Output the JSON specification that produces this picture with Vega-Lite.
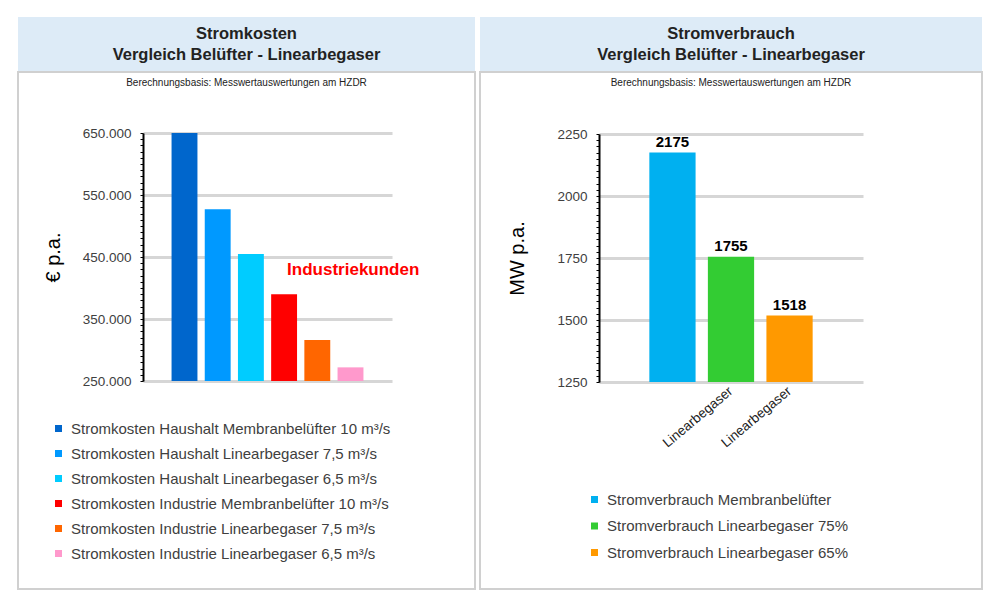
{
  "$schema": "https://vega.github.io/schema/vega-lite/v6.json",
  "padding": {"left": 17, "top": 17, "right": 0, "bottom": 0},
  "background": "white",
  "config": {"font": "Liberation Sans"},
  "spacing": 3,
  "resolve": {"scale": {"x": "independent", "y": "independent", "color": "independent"}},
  "hconcat": [
    {
      "spacing": 0,
      "resolve": {"scale": {"x": "independent", "y": "independent", "color": "independent"}},
      "vconcat": [
        {
          "width": 457,
          "height": 54,
          "view": {"fill": "#DDEBF7", "stroke": null},
          "data": {"values": [{"titel": "Stromkosten\nVergleich Belüfter - Linearbegaser"}]},
          "mark": {"type": "text", "lineBreak": "\n", "fontSize": 16.5, "fontWeight": "bold", "lineHeight": 21, "color": "#222222", "align": "center", "baseline": "middle", "dy": -10.5},
          "encoding": {
            "x": {"datum": 0.5, "type": "quantitative", "scale": {"domain": [0, 1]}, "axis": null},
            "y": {"datum": 0.5, "type": "quantitative", "scale": {"domain": [0, 1]}, "axis": null},
            "text": {"field": "titel"}
          }
        },
        {
          "width": 457,
          "height": 517,
          "view": {"fill": "white", "stroke": "#D0D0D0", "strokeWidth": 2},
          "title": {"text": "Berechnungsbasis: Messwertauswertungen am HZDR", "fontSize": 10, "fontWeight": "normal", "color": "#222222", "anchor": "middle", "frame": "group", "orient": "top", "offset": -16},
          "layer": [
            {
              "data": {"values": [
                {"serie": "Stromkosten Haushalt Membranbelüfter 10 m³/s", "kosten": 650000},
                {"serie": "Stromkosten Haushalt Linearbegaser 7,5 m³/s", "kosten": 527000},
                {"serie": "Stromkosten Haushalt Linearbegaser 6,5 m³/s", "kosten": 455000},
                {"serie": "Stromkosten Industrie Membranbelüfter 10 m³/s", "kosten": 390000},
                {"serie": "Stromkosten Industrie Linearbegaser 7,5 m³/s", "kosten": 316000},
                {"serie": "Stromkosten Industrie Linearbegaser 6,5 m³/s", "kosten": 272000}
              ]},
              "mark": {"type": "bar", "clip": false},
              "encoding": {
                "x": {"field": "serie", "type": "nominal", "sort": null, "scale": {"range": [125, 374], "paddingInner": 0.22, "paddingOuter": 0.86}, "axis": null},
                "y": {"field": "kosten", "type": "quantitative", "scale": {"domain": [250000, 650000], "range": [309, 61], "nice": false, "zero": false},
                  "axis": {
                    "values": [250000, 260000, 270000, 280000, 290000, 300000, 310000, 320000, 330000, 340000, 350000, 360000, 370000, 380000, 390000, 400000, 410000, 420000, 430000, 440000, 450000, 460000, 470000, 480000, 490000, 500000, 510000, 520000, 530000, 540000, 550000, 560000, 570000, 580000, 590000, 600000, 610000, 620000, 630000, 640000, 650000],
                    "tickCount": 100,
                    "labelExpr": "datum.value % 100000 === 50000 ? replace(format(datum.value, ',d'), ',', '.') : ''",
                    "labelOverlap": false,
                    "labelFlush": false,
                    "labelFontSize": 13.5,
                    "labelColor": "#404040",
                    "labelPadding": 9,
                    "tickSize": 3,
                    "tickColor": "black",
                    "domainColor": "black",
                    "domainWidth": 2,
                    "grid": true,
                    "gridColor": "#D6D6D6",
                    "gridWidth": 3,
                    "gridOpacity": {"condition": {"test": "datum.value % 100000 === 50000", "value": 1}, "value": 0},
                    "offset": -125,
                    "title": "€ p.a.",
                    "titleFontSize": 20,
                    "titleFontWeight": "normal",
                    "titleColor": "black",
                    "titlePadding": 19
                  }
                },
                "y2": {"datum": 250000},
                "color": {"field": "serie", "type": "nominal", "sort": null,
                  "scale": {
                    "domain": ["Stromkosten Haushalt Membranbelüfter 10 m³/s", "Stromkosten Haushalt Linearbegaser 7,5 m³/s", "Stromkosten Haushalt Linearbegaser 6,5 m³/s", "Stromkosten Industrie Membranbelüfter 10 m³/s", "Stromkosten Industrie Linearbegaser 7,5 m³/s", "Stromkosten Industrie Linearbegaser 6,5 m³/s"],
                    "range": ["#0066CC", "#0099FF", "#00CCFF", "#FF0000", "#FF6600", "#FF99CC"]
                  },
                  "legend": {"orient": "none", "legendX": 33, "legendY": 349, "title": null, "symbolType": "square", "symbolSize": 49, "symbolStrokeWidth": 0, "labelFontSize": 15, "labelColor": "#404040", "rowPadding": 9, "labelOffset": 5, "labelLimit": 0}
                }
              }
            },
            {
              "data": {"values": [{"serie": "Stromkosten Industrie Membranbelüfter 10 m³/s", "kosten": 429000, "hinweis": "Industriekunden"}]},
              "mark": {"type": "text", "align": "left", "baseline": "middle", "dx": 3, "fontSize": 17, "fontWeight": "bold", "color": "#FF0000", "clip": false},
              "encoding": {
                "x": {"field": "serie", "type": "nominal", "sort": null},
                "y": {"field": "kosten", "type": "quantitative"},
                "text": {"field": "hinweis"}
              }
            }
          ]
        }
      ]
    },
    {
      "spacing": 0,
      "resolve": {"scale": {"x": "independent", "y": "independent", "color": "independent"}},
      "vconcat": [
        {
          "width": 502,
          "height": 54,
          "view": {"fill": "#DDEBF7", "stroke": null},
          "data": {"values": [{"titel": "Stromverbrauch\nVergleich Belüfter - Linearbegaser"}]},
          "mark": {"type": "text", "lineBreak": "\n", "fontSize": 16.5, "fontWeight": "bold", "lineHeight": 21, "color": "#222222", "align": "center", "baseline": "middle", "dy": -10.5},
          "encoding": {
            "x": {"datum": 0.5, "type": "quantitative", "scale": {"domain": [0, 1]}, "axis": null},
            "y": {"datum": 0.5, "type": "quantitative", "scale": {"domain": [0, 1]}, "axis": null},
            "text": {"field": "titel"}
          }
        },
        {
          "width": 502,
          "height": 517,
          "view": {"fill": "white", "stroke": "#D0D0D0", "strokeWidth": 2},
          "title": {"text": "Berechnungsbasis: Messwertauswertungen am HZDR", "fontSize": 10, "fontWeight": "normal", "color": "#222222", "anchor": "middle", "frame": "group", "orient": "top", "offset": -16},
          "data": {"values": [
            {"serie": "Stromverbrauch Membranbelüfter", "mw": 2175},
            {"serie": "Stromverbrauch Linearbegaser 75%", "mw": 1755},
            {"serie": "Stromverbrauch Linearbegaser 65%", "mw": 1518}
          ]},
          "encoding": {
            "x": {"field": "serie", "type": "nominal", "sort": null, "scale": {"range": [119, 383], "paddingInner": 0.21, "paddingOuter": 0.86},
              "axis": {"orient": "bottom", "offset": -208, "domain": false, "ticks": false, "grid": false, "title": null, "labelAngle": -40, "labelAlign": "right", "labelBaseline": "middle", "labelFontSize": 13.5, "labelColor": "#222222", "labelPadding": 8, "labelLimit": 0,
                "labelExpr": "indexof(datum.value, 'Linearbegaser') >= 0 ? 'Linearbegaser' : ''"}
            },
            "y": {"field": "mw", "type": "quantitative", "scale": {"domain": [1250, 2250], "range": [310, 62], "nice": false, "zero": false},
              "axis": {
                "values": [1250, 1275, 1300, 1325, 1350, 1375, 1400, 1425, 1450, 1475, 1500, 1525, 1550, 1575, 1600, 1625, 1650, 1675, 1700, 1725, 1750, 1775, 1800, 1825, 1850, 1875, 1900, 1925, 1950, 1975, 2000, 2025, 2050, 2075, 2100, 2125, 2150, 2175, 2200, 2225, 2250],
                "tickCount": 100,
                "labelExpr": "datum.value % 250 === 0 ? format(datum.value, 'd') : ''",
                "labelOverlap": false,
                "labelFlush": false,
                "labelFontSize": 13.5,
                "labelColor": "#404040",
                "labelPadding": 9,
                "tickSize": 3,
                "tickColor": "black",
                "domainColor": "black",
                "domainWidth": 2,
                "grid": true,
                "gridColor": "#D6D6D6",
                "gridWidth": 3,
                "gridOpacity": {"condition": {"test": "datum.value % 250 === 0", "value": 1}, "value": 0},
                "offset": -119,
                "title": "MW p.a.",
                "titleFontSize": 20,
                "titleFontWeight": "normal",
                "titleColor": "black",
                "titlePadding": 29
              }
            }
          },
          "layer": [
            {
              "mark": {"type": "bar", "clip": false},
              "encoding": {
                "y2": {"datum": 1250},
                "color": {"field": "serie", "type": "nominal", "sort": null,
                  "scale": {"domain": ["Stromverbrauch Membranbelüfter", "Stromverbrauch Linearbegaser 75%", "Stromverbrauch Linearbegaser 65%"], "range": ["#00B0F0", "#33CC33", "#FF9900"]},
                  "legend": {"orient": "none", "legendX": 107, "legendY": 420, "title": null, "symbolType": "square", "symbolSize": 49, "symbolStrokeWidth": 0, "labelFontSize": 15, "labelColor": "#404040", "rowPadding": 10.5, "labelOffset": 5, "labelLimit": 0}
                }
              }
            },
            {
              "mark": {"type": "text", "baseline": "bottom", "dy": -3, "fontSize": 15, "fontWeight": "bold", "color": "black"},
              "encoding": {"text": {"field": "mw", "type": "quantitative"}}
            }
          ]
        }
      ]
    }
  ]
}
